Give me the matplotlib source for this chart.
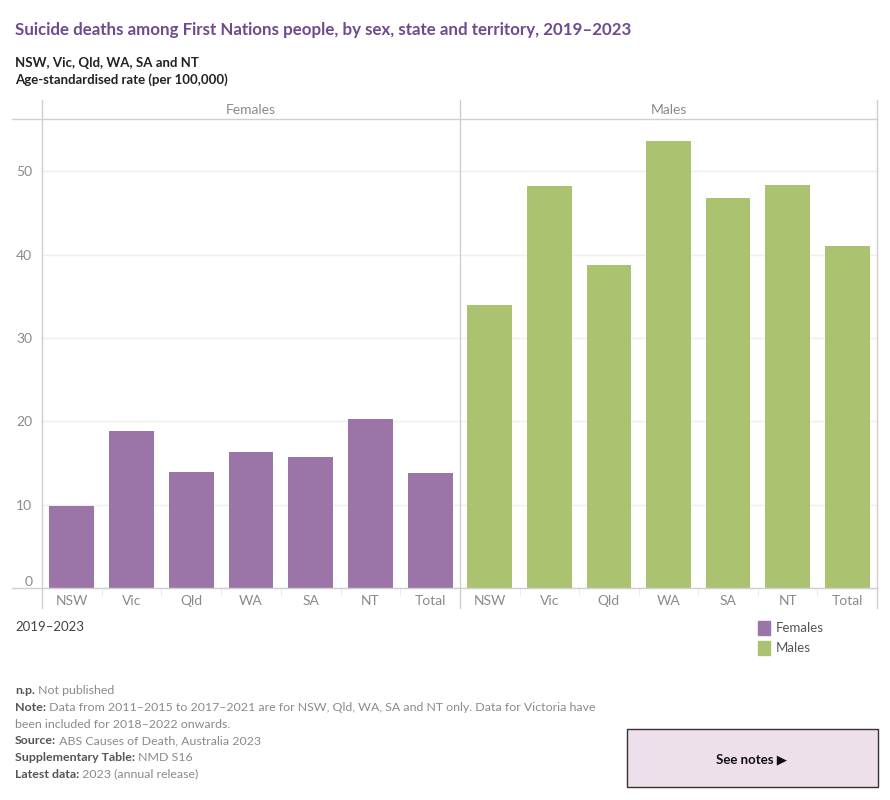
import matplotlib.pyplot as plt
from matplotlib.lines import Line2D
from matplotlib.patches import Rectangle

plt.rcParams['font.family'] = ['Lato', 'DejaVu Sans']

# Данные
categories = ['NSW', 'Vic', 'Qld', 'WA', 'SA', 'NT', 'Total']
females = [9.8, 18.8, 13.9, 16.3, 15.7, 20.3, 13.8]
males = [34.0, 48.2, 38.8, 53.6, 46.8, 48.4, 41.0]
panels = ['Females', 'Males']
yticks = [0, 10, 20, 30, 40, 50]

purple = '#9b75a7'
green = '#abc371'
line_col = '#cfcfcf'
grey_txt = '#8a8a8a'

W, H = 890, 800
fig = plt.figure(figsize=(W / 100, H / 100), dpi=100)


def fx(px):
    return px / W


def fy(py):
    return 1 - py / H


x_left, x_mid, x_right = 42, 460, 877
top, base = 119, 588

for i, (vals, color, name) in enumerate([(females, purple, panels[0]), (males, green, panels[1])]):
    x0, x1 = (x_left, x_mid) if i == 0 else (x_mid, x_right)
    ax = fig.add_axes([fx(x0), fy(base), fx(x1 - x0), (base - top) / H])
    ax.bar(range(len(categories)), vals, width=0.75, color=color, zorder=2)
    ax.set_xlim(-0.5, len(categories) - 0.5)
    ax.set_ylim(0, 56.3)
    ax.set_yticks(yticks)
    ax.grid(axis='y', color='#efefef', linewidth=1, zorder=0)
    for s in ax.spines.values():
        s.set_visible(False)
    ax.set_xticks(range(len(categories)))
    ax.set_xticklabels(categories)
    ax.set_xticks([k + 0.5 for k in range(len(categories) - 1)], minor=True)
    ax.tick_params(axis='x', which='major', length=0, pad=5, labelsize=10, labelcolor=grey_txt)
    ax.tick_params(axis='x', which='minor', length=5, color='#e6e6e6', direction='out')
    if i == 0:
        ax.tick_params(axis='y', length=0, pad=7, labelsize=10, labelcolor=grey_txt)
        # ноль чуть выше базовой линии
        ax.yaxis.get_major_ticks()[0].label1.set_verticalalignment('bottom')
    else:
        ax.tick_params(axis='y', length=0, labelleft=False)
    fig.text(fx((x0 + x1) / 2), fy(110), name, ha='center', va='center',
             fontsize=10, color=grey_txt)

# Рамки
for y in [top, base]:
    fig.add_artist(Line2D([fx(12), fx(x_right)], [fy(y), fy(y)], color=line_col, lw=1))
for x in [x_left, x_mid, x_right]:
    fig.add_artist(Line2D([fx(x), fx(x)], [fy(100), fy(608)], color=line_col, lw=1))

# Заголовки
fig.text(fx(15), fy(30), 'Suicide deaths among First Nations people, by sex, state and territory, 2019–2023',
         fontsize=12.2, fontweight='bold', color='#6e4a8e', va='center')
fig.text(fx(15), fy(63), 'NSW, Vic, Qld, WA, SA and NT', fontsize=9.5, fontweight='bold',
         color='#222222', va='center')
fig.text(fx(15), fy(80), 'Age-standardised rate (per 100,000)', fontsize=9.5, fontweight='bold',
         color='#222222', va='center')

fig.text(fx(15), fy(627), '2019–2023', fontsize=9.5, color='#444444', va='center')

# Легенда
for j, (name, color) in enumerate([(panels[0], purple), (panels[1], green)]):
    yy = 628 + j * 20
    fig.add_artist(Rectangle((fx(758), fy(yy + 7)), fx(12), 14 / H, color=color))
    fig.text(fx(776), fy(yy), name, fontsize=9.5, color='#555555', va='center')

# Примечания
notes = [
    ('n.p.', ' Not published'),
    ('Note:', ' Data from 2011–2015 to 2017–2021 are for NSW, Qld, WA, SA and NT only. Data for Victoria have'),
    ('', 'been included for 2018–2022 onwards.'),
    ('Source:', ' ABS Causes of Death, Australia 2023'),
    ('Supplementary Table:', ' NMD S16'),
    ('Latest data:', ' 2023 (annual release)'),
]
renderer = fig.canvas.get_renderer()
for k, (b, r) in enumerate(notes):
    yy = fy(691 + k * 16.6)
    x = fx(15)
    if b:
        t = fig.text(x, yy, b, fontsize=8.9, fontweight='bold', color='#555555', va='center')
        bb = t.get_window_extent(renderer)
        x = bb.x1 / W
    fig.text(x, yy, r, fontsize=8.9, color='#8a8a8a', va='center')

# Кнопка
fig.add_artist(Rectangle((fx(627), fy(787)), fx(878 - 627), 58 / H,
                         facecolor='#ede0ea', edgecolor='#333333', lw=1))
fig.text(fx(752), fy(759), 'See notes ▶', fontsize=9.5, fontweight='bold',
         color='#111111', ha='center', va='center', family=['Lato', 'DejaVu Sans'])

fig.savefig('out.png', dpi=100)
